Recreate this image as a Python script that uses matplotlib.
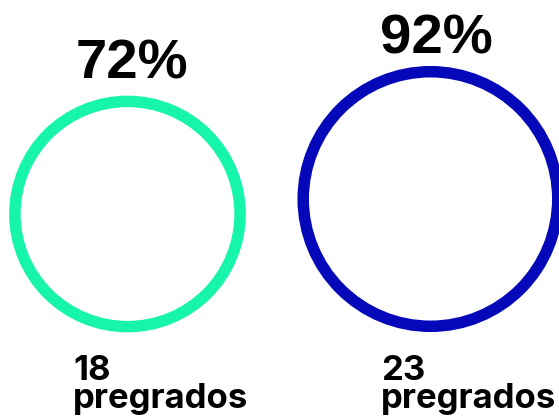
import numpy as np
import matplotlib
matplotlib.use("Agg")
import matplotlib.pyplot as plt
from matplotlib.patches import Circle

# data
percentages = [72, 92]
counts = [18, 23]
unit = "pregrados"
colors = ["#17F5AA", "#0508B9"]

# layout (pixels, y grows downward)
centers_x = [127.5, 430.5]
centers_y = [214, 199]
scale = 13.27          # ring radius = scale * sqrt(percentage)
ring_px = 11.5
pct_pos = [(131.5, 78), (436.5, 53)]
label_pos = [(73, 408), (381, 408)]   # baseline of the last line

W, H, DPI = 559, 417, 100
fig = plt.figure(figsize=(W / DPI, H / DPI), dpi=DPI)
ax = fig.add_axes([0, 0, 1, 1])
ax.set_xlim(0, W)
ax.set_ylim(H, 0)
ax.set_aspect("equal")
ax.axis("off")

lw_pt = ring_px * 72 / DPI
for i, pct in enumerate(percentages):
    r = scale * np.sqrt(pct)
    ax.add_patch(Circle((centers_x[i], centers_y[i]), r, fill=False,
                        edgecolor=colors[i], linewidth=lw_pt))
    ax.text(pct_pos[i][0], pct_pos[i][1], f"{pct}%", ha="center", va="baseline",
            fontsize=40.5, fontweight="bold", family="Liberation Sans", color="black")
    ax.text(label_pos[i][0], label_pos[i][1], f"{counts[i]}\n{unit}", ha="left",
            va="baseline", fontsize=25, fontweight="bold", family="Inter",
            color="black", linespacing=0.86)

fig.savefig("out.png", dpi=DPI)
plt.close(fig)
